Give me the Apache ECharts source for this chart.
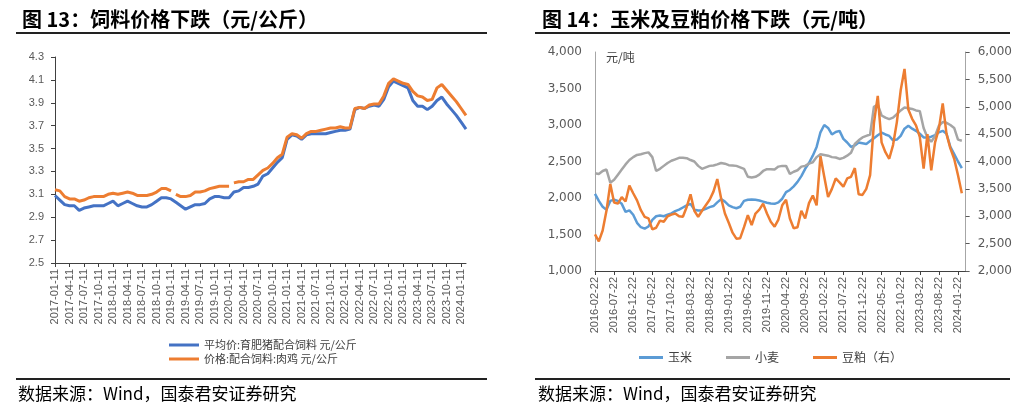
<!DOCTYPE html>
<html><head><meta charset="utf-8">
<script src="https://cdn.jsdelivr.net/npm/echarts@6/dist/echarts.min.js"></script>
<style>html,body{margin:0;padding:0;background:#fff}#c{width:1015px;height:409px}</style>
</head><body><div id="c"></div>
<script>
// ---------- Left chart (图13) : monthly, 2017-01 .. 2024-02 ----------
const leftTickLabels = ['2017-01-11','2017-04-11','2017-07-11','2017-10-11','2018-01-11','2018-04-11','2018-07-11','2018-10-11','2019-01-11','2019-04-11','2019-07-11','2019-10-11','2020-01-11','2020-04-11','2020-07-11','2020-10-11','2021-01-11','2021-04-11','2021-07-11','2021-10-11','2022-01-11','2022-04-11','2022-07-11','2022-10-11','2023-01-11','2023-04-11','2023-07-11','2023-10-11','2024-01-11'];
const leftTickStep = 3; // months between tick labels
const hogFeed = [3.09,3.05,3.01,3.00,3.00,2.96,2.98,2.99,3.00,3.00,3.00,3.02,3.04,3.00,3.02,3.04,3.02,3.00,2.99,2.99,3.01,3.04,3.07,3.07,3.06,3.03,3.00,2.97,2.99,3.01,3.01,3.02,3.06,3.08,3.08,3.07,3.07,3.12,3.13,3.16,3.16,3.17,3.19,3.26,3.28,3.33,3.38,3.42,3.58,3.62,3.61,3.58,3.62,3.63,3.63,3.63,3.63,3.64,3.65,3.66,3.66,3.67,3.84,3.86,3.85,3.87,3.88,3.87,3.93,4.04,4.09,4.07,4.05,4.03,3.92,3.87,3.87,3.84,3.87,3.92,3.95,3.89,3.84,3.79,3.73,3.67];
const broilerFeed = [3.14,3.13,3.08,3.06,3.06,3.04,3.05,3.07,3.08,3.08,3.08,3.10,3.11,3.10,3.11,3.12,3.11,3.09,3.09,3.09,3.10,3.12,3.15,3.15,3.13,3.10,3.08,3.08,3.09,3.12,3.12,3.13,3.15,3.16,3.17,3.17,3.17,3.20,3.21,3.21,3.23,3.23,3.27,3.31,3.33,3.37,3.42,3.45,3.60,3.63,3.62,3.59,3.63,3.65,3.65,3.66,3.67,3.68,3.68,3.69,3.68,3.68,3.85,3.86,3.85,3.88,3.89,3.89,3.96,4.07,4.11,4.09,4.07,4.06,4.00,3.96,3.95,3.92,3.93,4.03,4.06,4.01,3.96,3.91,3.85,3.79];
const broilerGapsAfter = [24, 36]; // missing data right after these months
const leftNames = ['平均价:育肥猪配合饲料 元/公斤', '价格:配合饲料:肉鸡 元/公斤'];

// ---------- Right chart (图14) : monthly, 2016-02 .. 2024-02 ----------
const rightTickLabels = ['2016-02-22','2016-07-22','2016-12-22','2017-05-22','2017-10-22','2018-03-22','2018-08-22','2019-01-22','2019-06-22','2019-11-22','2020-04-22','2020-09-22','2021-02-22','2021-07-22','2021-12-22','2022-05-22','2022-10-22','2023-03-22','2023-08-22','2024-01-22'];
const rightTickStep = 5;
const corn = [2057,1960,1880,1840,1960,1975,1960,1920,1810,1830,1770,1660,1600,1580,1610,1700,1750,1760,1750,1770,1790,1820,1840,1870,1900,1920,1840,1830,1830,1850,1875,1890,1940,1985,1950,1900,1875,1860,1880,1960,1975,1980,1975,1965,1950,1935,1925,1920,1940,1990,2080,2110,2160,2220,2300,2400,2480,2580,2700,2900,3000,2960,2870,2905,2920,2810,2760,2700,2720,2760,2750,2740,2780,2820,2860,2895,2870,2850,2790,2800,2850,2950,2990,2950,2920,2880,2830,2830,2840,2860,2900,2920,2880,2700,2600,2500,2410];
const wheat = [2339,2330,2370,2390,2210,2250,2320,2390,2460,2520,2560,2590,2600,2615,2625,2560,2370,2400,2440,2480,2510,2530,2550,2550,2545,2520,2500,2440,2400,2420,2440,2445,2460,2480,2470,2450,2445,2440,2420,2400,2290,2280,2290,2320,2370,2395,2395,2390,2430,2440,2440,2330,2360,2380,2430,2440,2470,2490,2560,2600,2590,2580,2560,2555,2535,2550,2580,2620,2740,2790,2830,2850,2870,3250,3280,3130,3100,3080,3100,3150,3200,3240,3230,3220,3200,3190,2960,2830,2770,2850,2990,3040,3030,3000,2960,2800,2785];
const soymeal = [2670,2540,2740,3100,3590,3250,3230,3350,3270,3560,3420,3290,3110,2990,2960,2760,2790,2920,2900,3000,3030,3050,3000,2990,3170,3400,3100,2990,3100,3200,3300,3450,3680,3330,3050,2880,2700,2590,2600,2800,3020,2840,3050,3120,3230,3050,2900,2810,2940,3200,3300,2960,2780,2800,3100,2960,3240,3380,3200,4100,3720,3350,3500,3690,3620,3540,3690,3720,3880,3400,3390,3500,3750,4700,5200,4350,4170,4050,4300,4720,5300,5690,4950,4780,4660,4450,3870,4500,3840,4350,4600,5060,4500,4240,4050,3750,3420];
const rightNames = ['玉米', '小麦', '豆粕（右）'];

// ---------- build ----------
const idxPairs = arr => arr.map((v, i) => [i, v]);
function withGaps(arr, gaps) {
  const out = [];
  arr.forEach((v, i) => { out.push([i, v]); if (gaps.includes(i)) out.push([i + 0.5, null]); });
  return out;
}
const leftTickValues = leftTickLabels.map((_, k) => k * leftTickStep);
const rightTickValues = rightTickLabels.map((_, k) => k * rightTickStep);

const axisGrey = '#595959';
const labelFont = 'Liberation Sans';
const cjk = 'Noto Sans CJK SC';

const chart = echarts.init(document.getElementById('c'), null, {renderer: 'canvas'});
chart.setOption({
  animation: false,
  backgroundColor: '#fff',
  title: [
    {text: '图 13：饲料价格下跌（元/公斤）', left: 17, top: 4, textStyle: {fontSize: 20, fontWeight: 'bold', color: '#000', fontFamily: cjk}},
    {text: '图 14：玉米及豆粕价格下跌（元/吨）', left: 537, top: 4, textStyle: {fontSize: 20, fontWeight: 'bold', color: '#000', fontFamily: cjk}}
  ],
  grid: [
    {left: 55, top: 57, width: 411, height: 206},
    {left: 595, top: 52, width: 372, height: 219}
  ],
  legend: [
    {orient: 'vertical', left: 164, top: 333, itemWidth: 30, itemHeight: 3, itemGap: 0, icon: 'rect',
     data: leftNames, textStyle: {fontSize: 11, lineHeight: 14, color: '#404040', fontFamily: cjk}},
    {orient: 'horizontal', left: 634, top: 346, itemWidth: 24, itemHeight: 3, itemGap: 34, icon: 'rect',
     data: rightNames, textStyle: {fontSize: 12, lineHeight: 13, color: '#404040', fontFamily: cjk}}
  ],
  xAxis: [
    {type: 'value', gridIndex: 0, min: 0, max: hogFeed.length - 1, splitLine: {show: false},
     axisLine: {lineStyle: {color: '#404040'}},
     axisTick: {customValues: leftTickValues, length: 4, lineStyle: {color: '#404040'}},
     axisLabel: {customValues: leftTickValues, rotate: 90, fontSize: 11, color: axisGrey, fontFamily: labelFont, margin: 6,
                 formatter: v => leftTickLabels[Math.round(v / leftTickStep)] || ''}},
    {type: 'value', gridIndex: 1, min: 0, max: corn.length, splitLine: {show: false},
     axisLine: {lineStyle: {color: '#404040'}},
     axisTick: {customValues: rightTickValues, length: 4, lineStyle: {color: '#404040'}},
     axisLabel: {customValues: rightTickValues, rotate: 90, fontSize: 11, color: axisGrey, fontFamily: labelFont, margin: 6,
                 formatter: v => rightTickLabels[Math.round(v / rightTickStep)] || ''}}
  ],
  yAxis: [
    {type: 'value', gridIndex: 0, min: 2.5, max: 4.3, interval: 0.2, splitLine: {show: false},
     axisLine: {show: true, lineStyle: {color: '#404040'}},
     axisTick: {show: true, length: 4, lineStyle: {color: '#404040'}},
     axisLabel: {fontSize: 11, color: axisGrey, fontFamily: labelFont, margin: 11, formatter: v => v.toFixed(1)}},
    {type: 'value', gridIndex: 1, min: 1000, max: 4000, interval: 500, splitLine: {show: false},
     axisLine: {show: true, lineStyle: {color: '#A6A6A6'}},
     axisTick: {show: false},
     axisLabel: {fontSize: 12, color: axisGrey, fontFamily: 'DejaVu Sans', margin: 13, formatter: v => v.toLocaleString('en-US')}},
    {type: 'value', gridIndex: 1, position: 'right', min: 2000, max: 6000, interval: 500, splitLine: {show: false},
     axisLine: {show: true, lineStyle: {color: '#A6A6A6'}},
     axisTick: {show: true, length: 4, lineStyle: {color: '#595959'}},
     axisLabel: {fontSize: 12, color: axisGrey, fontFamily: 'DejaVu Sans', margin: 12, formatter: v => v.toLocaleString('en-US')}}
  ],
  series: [
    {name: leftNames[0], type: 'line', xAxisIndex: 0, yAxisIndex: 0, data: idxPairs(hogFeed), showSymbol: false,
     lineStyle: {width: 3, color: '#4472C4'}, itemStyle: {color: '#4472C4'}},
    {name: leftNames[1], type: 'line', xAxisIndex: 0, yAxisIndex: 0, data: withGaps(broilerFeed, broilerGapsAfter), showSymbol: false, connectNulls: false,
     lineStyle: {width: 3, color: '#ED7D31'}, itemStyle: {color: '#ED7D31'}},
    {name: rightNames[0], type: 'line', xAxisIndex: 1, yAxisIndex: 1, data: idxPairs(corn), showSymbol: false,
     lineStyle: {width: 2.5, color: '#5B9BD5'}, itemStyle: {color: '#5B9BD5'}},
    {name: rightNames[1], type: 'line', xAxisIndex: 1, yAxisIndex: 1, data: idxPairs(wheat), showSymbol: false,
     lineStyle: {width: 2.5, color: '#A5A5A5'}, itemStyle: {color: '#A5A5A5'}},
    {name: rightNames[2], type: 'line', xAxisIndex: 1, yAxisIndex: 2, data: idxPairs(soymeal), showSymbol: false,
     lineStyle: {width: 2.5, color: '#ED7D31'}, itemStyle: {color: '#ED7D31'}}
  ],
  graphic: [
    {type: 'line', shape: {x1: 16, y1: 33, x2: 487, y2: 33}, style: {stroke: '#222', lineWidth: 2}},
    {type: 'line', shape: {x1: 535, y1: 33, x2: 1010, y2: 33}, style: {stroke: '#222', lineWidth: 2}},
    {type: 'line', shape: {x1: 16, y1: 379, x2: 487, y2: 379}, style: {stroke: '#222', lineWidth: 2}},
    {type: 'line', shape: {x1: 535, y1: 379, x2: 1010, y2: 379}, style: {stroke: '#222', lineWidth: 2}},
    {type: 'text', x: 18, y: 394, style: {text: '数据来源：Wind，国泰君安证券研究', fontSize: 17, fill: '#000', fontFamily: cjk, textVerticalAlign: 'middle', verticalAlign: 'middle'}},
    {type: 'text', x: 538, y: 394, style: {text: '数据来源：Wind，国泰君安证券研究', fontSize: 17, fill: '#000', fontFamily: cjk, textVerticalAlign: 'middle', verticalAlign: 'middle'}},
    {type: 'text', x: 606, y: 57, style: {text: '元/吨', fontSize: 12, fill: '#404040', fontFamily: cjk, verticalAlign: 'middle', textVerticalAlign: 'middle'}}
  ]
});
</script></body></html>
